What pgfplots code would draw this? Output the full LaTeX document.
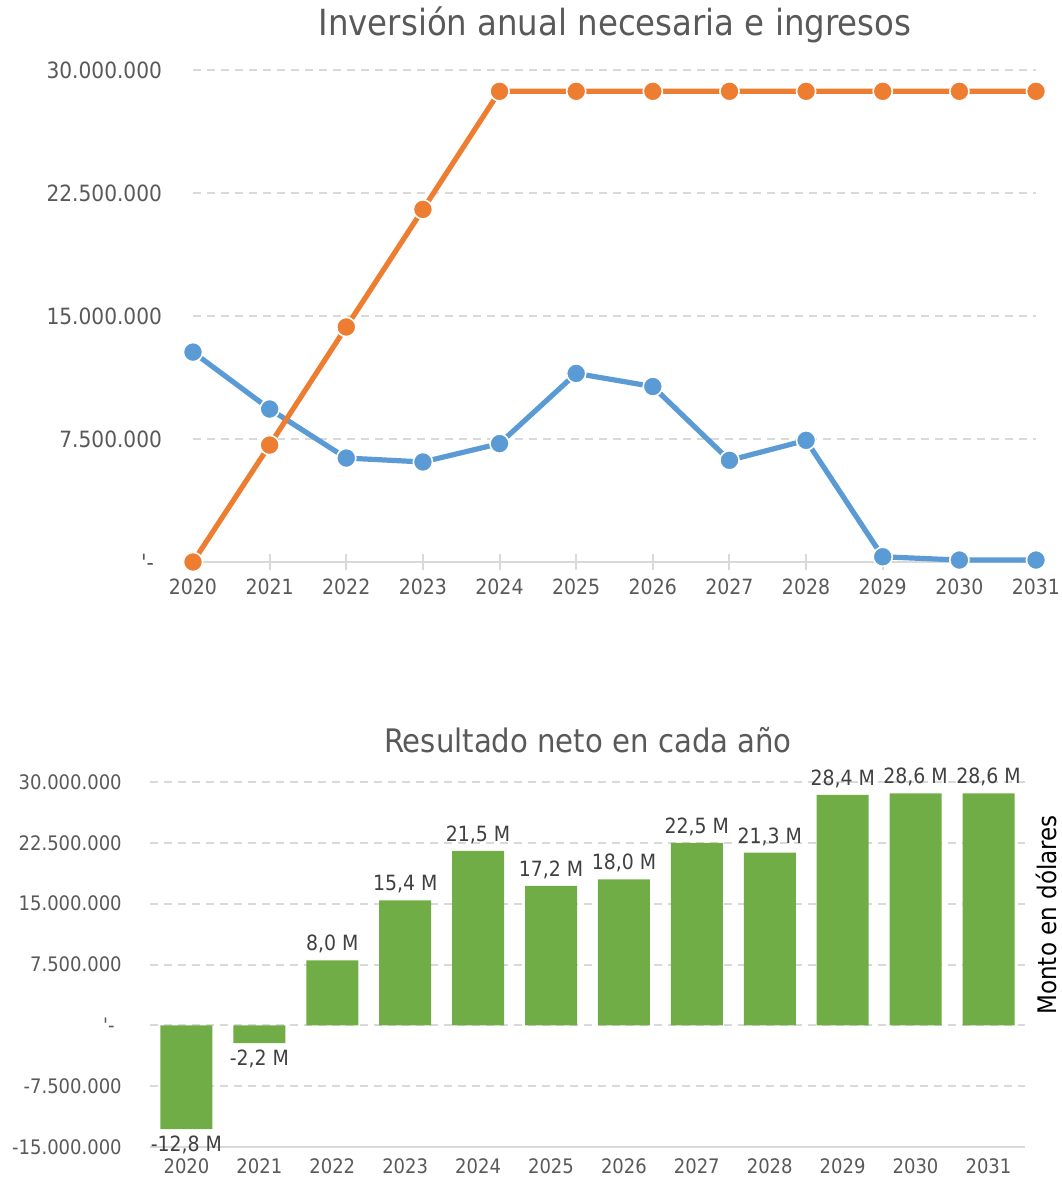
\documentclass[border=0pt]{standalone}
\usepackage{fontspec}
\setmainfont{DejaVu Sans Condensed}
\usepackage{pgfplots}
\pgfplotsset{compat=1.18}
\usepackage{pgfplotstable}
\definecolor{cOr}{HTML}{ED7D31}
\definecolor{cBl}{HTML}{5B9BD5}
\definecolor{cGr}{HTML}{70AD47}
\definecolor{cTx}{HTML}{595959}
\definecolor{cGd}{HTML}{D9D9D9}
\definecolor{cLb}{HTML}{404040}
\pgfplotstableread{
year ingresos inversion
2020 0     12.80
2021 7.13  9.33
2022 14.33 6.34
2023 21.50 6.10
2024 28.70 7.22
2025 28.70 11.50
2026 28.70 10.70
2027 28.70 6.20
2028 28.70 7.42
2029 28.70 0.32
2030 28.70 0.12
2031 28.70 0.12
}\topdata
\pgfplotstableread{
year neto label
2022 8.0 {8,0 M}
2023 15.4 {15,4 M}
2024 21.5 {21,5 M}
2025 17.2 {17,2 M}
2026 18.0 {18,0 M}
2027 22.5 {22,5 M}
2028 21.3 {21,3 M}
2029 28.4 {28,4 M}
2030 28.6 {28,6 M}
2031 28.6 {28,6 M}
}\botpos
\pgfplotstableread{
year neto label
2020 -12.8 {-12,8 M}
2021 -2.2 {-2,2 M}
}\botneg
\begin{document}
\begin{tikzpicture}
\path[use as bounding box] (0,0) rectangle (531pt,-590pt);
\node[font=\fontsize{18}{21}\selectfont, text=cTx] at (307.5pt,-12.5pt) {Inversión anual necesaria e ingresos};
\node[font=\fontsize{16.2}{19}\selectfont, text=cTx] at (294pt,-370pt) {Resultado neto en cada año};
% top chart
\begin{axis}[
  at={(96.5pt,-281pt)}, anchor=south west,
  scale only axis, width=421.5pt, height=246pt,
  xmin=2020, xmax=2031, ymin=0, ymax=30,
  clip=false,
  axis y line=left, axis x line*=bottom,
  y axis line style={draw=none},
  x axis line style={cGd, line width=1pt, -},
  xtick={2020,...,2031},
  xticklabels={2020,2021,2022,2023,2024,2025,2026,2027,2028,2029,2030,2031},
  ytick={0,7.5,15,22.5,30},
  yticklabels={\textquotesingle-\rule{4pt}{0pt},7.500.000,15.000.000,22.500.000,30.000.000},
  ymajorgrids, grid style={cGd, line width=1pt, dash pattern=on 4pt off 3pt},
  xtick style={cGd, line width=1pt}, tick align=center, major tick length=8pt,
  ytick style={draw=none},
  x tick label style={font=\fontsize{10.5}{12}\selectfont, text=cTx, yshift=-1pt},
  y tick label style={font=\fontsize{11.2}{13}\selectfont, text=cTx, xshift=-8pt},
]
\addplot[cBl, line width=2.6pt, mark=*, mark size=4.8pt, mark options={fill=cBl, draw=white, line width=0.8pt}] table[x=year, y=inversion] {\topdata};
\addplot[cOr, line width=2.6pt, mark=*, mark size=4.8pt, mark options={fill=cOr, draw=white, line width=0.8pt}] table[x=year, y=ingresos] {\topdata};
\end{axis}
% bottom chart
\begin{axis}[
  at={(75pt,-573.5pt)}, anchor=south west,
  scale only axis, width=437.5pt, height=182.5pt,
  xmin=2019.5, xmax=2031.5, ymin=-15, ymax=30,
  clip=false,
  axis y line=left, axis x line*=bottom,
  y axis line style={draw=none},
  x axis line style={cGd, line width=1pt, -},
  xtick={2020,...,2031},
  xticklabels={2020,2021,2022,2023,2024,2025,2026,2027,2028,2029,2030,2031},
  ytick={-15,-7.5,0,7.5,15,22.5,30},
  yticklabels={-15.000.000,-7.500.000,\textquotesingle-\rule{3.5pt}{0pt},7.500.000,15.000.000,22.500.000,30.000.000},
  ymajorgrids, grid style={cGd, line width=1pt, dash pattern=on 4pt off 3pt},
  tick style={draw=none},
  x tick label style={font=\fontsize{10}{12}\selectfont, text=cTx, yshift=2pt},
  y tick label style={font=\fontsize{10}{12}\selectfont, text=cTx, xshift=-8.5pt},
  ybar, bar width=26pt, bar shift=0pt,
  nodes near coords, point meta=explicit symbolic,
  every node near coord/.append style={font=\fontsize{10.5}{12}\selectfont, text=cLb},
]
\addplot[fill=cGr, draw=none] table[x=year, y=neto, meta=label] {\botpos};
\addplot[fill=cGr, draw=none, every node near coord/.append style={anchor=north}] table[x=year, y=neto, meta=label] {\botneg};
\node[rotate=90, font=\fontsize{12.8}{15}\selectfont, text=black] at (axis description cs:1.024,0.636) {Monto en dólares};
\end{axis}
\end{tikzpicture}
\end{document}
